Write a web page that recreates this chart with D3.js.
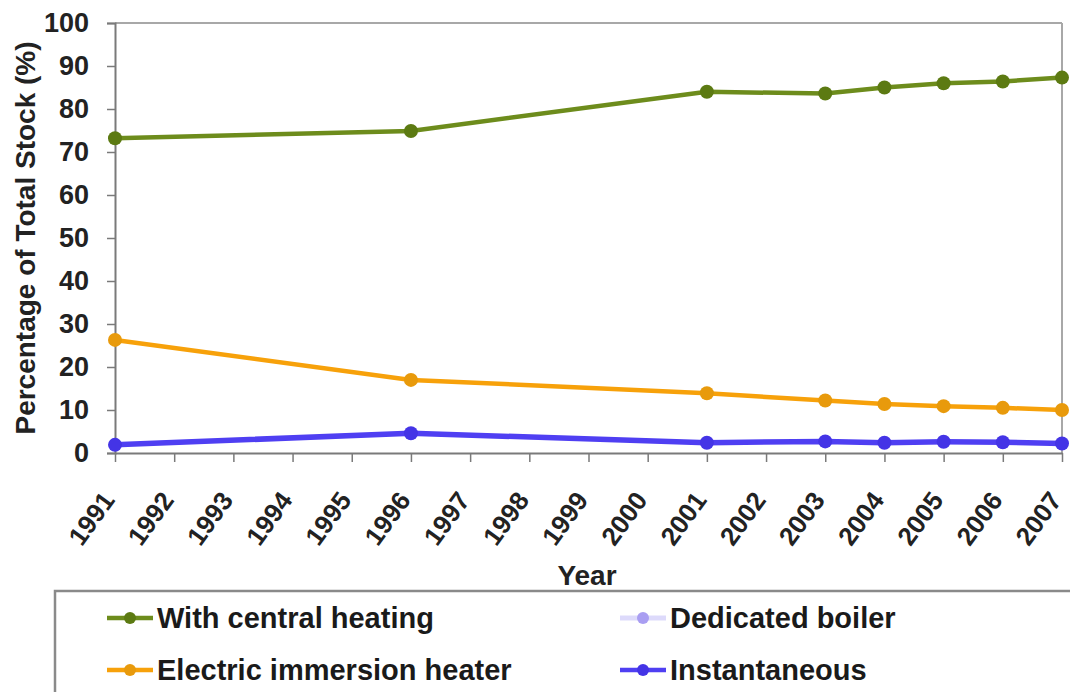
<!DOCTYPE html>
<html>
<head>
<meta charset="utf-8">
<script src="https://cdn.jsdelivr.net/npm/d3@7"></script>
<style>
  html, body { margin: 0; padding: 0; background: #fff; }
  svg { display: block; font-family: "Liberation Sans", Arial, sans-serif; }
</style>
</head>
<body>
<svg id="chart" width="1070" height="692"></svg>
<script>
// Tick labels on the year axis
const yearTicks = ["1991","1992","1993","1994","1995","1996","1997","1998","1999",
                   "2000","2001","2002","2003","2004","2005","2006","2007"];
// Survey years that have observations
const surveyYears = ["1991","1996","2001","2003","2004","2005","2006","2007"];
// Share of total housing stock (%) by hot water system
const centralHeating   = [73.2, 74.9, 84.0, 83.6, 85.0, 86.0, 86.4, 87.3];
const immersionHeater  = [26.3, 17.0, 13.9, 12.2, 11.4, 10.9, 10.5, 10.0];
const dedicatedBoiler  = [null, null, null, null, null, null, null, null];
const instantaneous    = [1.9, 4.6, 2.4, 2.7, 2.4, 2.6, 2.5, 2.2];
const yTicks = [0,10,20,30,40,50,60,70,80,90,100];

const series = [
  { name: "With central heating",      values: centralHeating,  line: "#6d8c1c", dot: "#5c7a12", col: 0, row: 0, w: 4.5 },
  { name: "Dedicated boiler",          values: dedicatedBoiler, line: "#b4acf6", dot: "#a99ef2", col: 1, row: 0, w: 5, noLine: true },
  { name: "Electric immersion heater", values: immersionHeater, line: "#f7a10a", dot: "#e89a0c", col: 0, row: 1, w: 4.5 },
  { name: "Instantaneous",             values: instantaneous,   line: "#4f3ff2", dot: "#4434e6", col: 1, row: 1, w: 5.5 }
];

const svg = d3.select("#chart");
const plot = { left: 115, right: 1062, top: 23, bottom: 453 };

const x = d3.scalePoint().domain(yearTicks).range([plot.left, plot.right]);
const y = d3.scaleLinear().domain([0, 100]).range([plot.bottom, plot.top]);

// Plot frame: light top and right edges
svg.append("line").attr("x1", plot.left).attr("x2", plot.right)
  .attr("y1", plot.top).attr("y2", plot.top).attr("stroke", "#a8a8a8").attr("stroke-width", 2);
svg.append("line").attr("x1", plot.right).attr("x2", plot.right)
  .attr("y1", plot.top).attr("y2", plot.bottom).attr("stroke", "#a8a8a8").attr("stroke-width", 2);

// Y axis
const yAxis = svg.append("g").attr("transform", `translate(${plot.left},0)`)
  .call(d3.axisLeft(y).tickValues(yTicks).tickSize(8).tickPadding(18));
yAxis.select(".domain").attr("stroke", "#7a7a7a").attr("stroke-width", 2);
yAxis.selectAll(".tick line").attr("stroke", "#7a7a7a").attr("stroke-width", 1.5);
yAxis.selectAll(".tick text").attr("font-size", 27).attr("font-weight", "bold")
  .attr("fill", "#222").attr("font-family", "Liberation Sans, Arial, sans-serif");

// X axis
const xAxis = svg.append("g").attr("transform", `translate(0,${plot.bottom})`)
  .call(d3.axisBottom(x).tickSize(9).tickSizeOuter(0));
xAxis.select(".domain").attr("stroke", "#7a7a7a").attr("stroke-width", 2);
xAxis.selectAll(".tick line").attr("stroke", "#7a7a7a").attr("stroke-width", 1.5);
xAxis.selectAll(".tick text")
  .attr("font-size", 26).attr("font-weight", "bold").attr("fill", "#222")
  .attr("font-family", "Liberation Sans, Arial, sans-serif")
  .attr("text-anchor", "end").attr("dy", "0.35em")
  .attr("transform", "translate(-7,42) rotate(-54)")
  .attr("y", 0).attr("x", 0);

// Axis titles
svg.append("text").attr("x", 587).attr("y", 585).attr("text-anchor", "middle")
  .attr("font-size", 28).attr("font-weight", "bold").attr("fill", "#222").text("Year");
svg.append("text").attr("transform", "translate(35,238) rotate(-90)").attr("text-anchor", "middle")
  .attr("font-size", 28).attr("font-weight", "bold").attr("fill", "#222")
  .text("Percentage of Total Stock (%)");

// Series lines and markers
const line = d3.line()
  .defined(d => d.v != null)
  .x(d => x(d.year)).y(d => y(d.v));

series.forEach(s => {
  const pts = surveyYears.map((yr, i) => ({ year: yr, v: s.values[i] }));
  if (!s.noLine) {
    svg.append("path").datum(pts).attr("d", line)
      .attr("fill", "none").attr("stroke", s.line).attr("stroke-width", s.w)
      .attr("stroke-linejoin", "round");
  }
  svg.append("g").selectAll("circle").data(pts.filter(d => d.v != null)).join("circle")
    .attr("cx", d => x(d.year)).attr("cy", d => y(d.v)).attr("r", 7)
    .attr("fill", s.dot);
});

// Legend
const legend = svg.append("g");
legend.append("rect").attr("x", 55).attr("y", 591).attr("width", 1030).attr("height", 110)
  .attr("fill", "#fff").attr("stroke", "#8a8a8a").attr("stroke-width", 2.5);
const colX = [107, 620];
const rowY = [618, 670];
series.forEach(s => {
  const gx = colX[s.col], gy = rowY[s.row];
  const g = legend.append("g").attr("transform", `translate(${gx},${gy})`);
  g.append("line").attr("x1", 0).attr("x2", 46).attr("y1", 0).attr("y2", 0)
    .attr("stroke", s.line).attr("stroke-width", s.noLine ? 5 : 4.5)
    .attr("stroke-opacity", s.noLine ? 0.45 : 1);
  g.append("circle").attr("cx", 23).attr("cy", 0).attr("r", 6).attr("fill", s.dot);
  g.append("text").attr("x", 50).attr("y", 0).attr("dy", "0.36em")
    .attr("font-size", 29).attr("font-weight", "bold").attr("fill", "#1a1a1a")
    .text(s.name);
});
</script>
</body>
</html>
